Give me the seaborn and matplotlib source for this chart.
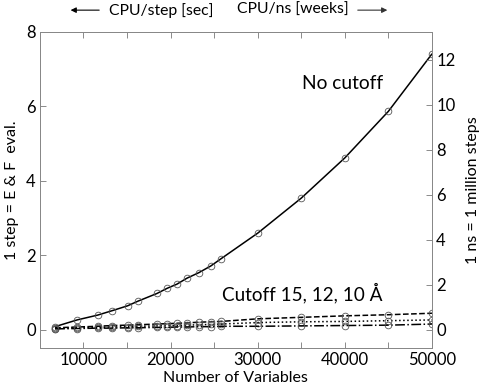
import matplotlib
matplotlib.use("Agg")
import matplotlib.pyplot as plt
import seaborn as sns
import pandas as pd

# Number of variables (x positions of the measured systems)
n_vars = [6740, 9260, 11630, 13310, 15070, 16210, 18430, 19610, 20720,
          21870, 23250, 24620, 25770, 30000, 35000, 40000, 45000, 50000]

# CPU time per step [sec]
no_cutoff = [0.09, 0.27, 0.40, 0.52, 0.65, 0.77, 0.98, 1.12, 1.23,
             1.39, 1.54, 1.72, 1.91, 2.60, 3.54, 4.62, 5.87, 7.41]
cutoff_15 = [0.06, 0.08, 0.10, 0.12, 0.13, 0.14, 0.16, 0.17, 0.18,
             0.19, 0.21, 0.22, 0.23, 0.30, 0.34, 0.38, 0.41, 0.45]
cutoff_12 = [0.04, 0.06, 0.07, 0.08, 0.09, 0.10, 0.11, 0.12, 0.12,
             0.13, 0.14, 0.15, 0.16, 0.20, 0.22, 0.23, 0.25, 0.27]
cutoff_10 = [0.03, 0.04, 0.05, 0.05, 0.06, 0.06, 0.07, 0.07, 0.08,
             0.08, 0.09, 0.09, 0.10, 0.10, 0.11, 0.12, 0.13, 0.16]

x_ticks = [10000, 20000, 30000, 40000, 50000]
left_ticks = [0, 2, 4, 6, 8]
right_ticks = [0, 2, 4, 6, 8, 10, 12]

# 1 ns = 1 million steps, seconds -> weeks
sec_to_weeks = 1e6 / 604800.0

sns.set_theme(style="ticks")
plt.rcParams['font.family'] = ['Lato', 'DejaVu Sans']
plt.rcParams['text.color'] = 'black'
plt.rcParams['axes.labelcolor'] = 'black'
plt.rcParams['xtick.labelcolor'] = 'black'
plt.rcParams['ytick.labelcolor'] = 'black'

series = [
    ("No cutoff", no_cutoff, "-"),
    ("15", cutoff_15, "--"),
    ("12", cutoff_12, ":"),
    ("10", cutoff_10, "-."),
]
df = pd.concat([pd.DataFrame({"n": n_vars, "t": vals, "s": name})
                for name, vals, _ in series], ignore_index=True)

fig = plt.figure(figsize=(4.81, 3.90), dpi=100)
ax = fig.add_axes([0.083, 0.108, 0.815, 0.810])

for name, vals, ls in series:
    sub = df[df["s"] == name]
    sns.lineplot(data=sub, x="n", y="t", ax=ax, color="black", linestyle=ls,
                 linewidth=1.1, marker="o", markersize=4.8,
                 markerfacecolor="none", markeredgecolor="#555555",
                 markeredgewidth=0.6, legend=False)

ax.set_xlim(5000, 50000)
ax.set_ylim(-0.48, 8)
ax.set_xticks(range(5000, 50001, 5000))
ax.set_xticklabels([str(v) if v in x_ticks else "" for v in range(5000, 50001, 5000)])
ax.set_yticks(left_ticks)
ax.set_yticklabels([str(v) for v in left_ticks])
ax.tick_params(direction="in", length=4, width=0.6, color="#777777",
               labelsize=12, top=True, pad=3)
ax.set_xlabel("Number of Variables", fontsize=11.5, labelpad=2)
ax.set_ylabel("1 step = E & F  eval.", fontsize=11.5, labelpad=5)

ax2 = ax.twinx()
lo, hi = ax.get_ylim()
ax2.set_ylim(lo * sec_to_weeks, hi * sec_to_weeks)
ax2.set_yticks(right_ticks)
ax2.set_yticklabels([str(v) for v in right_ticks])
ax2.tick_params(direction="in", length=4, width=0.6, color="#777777",
                labelsize=12, pad=3)
ax2.set_ylabel("1 ns = 1 million steps", fontsize=11.5, labelpad=8)

for a in (ax, ax2):
    for sp in a.spines.values():
        sp.set_color("#888888")
        sp.set_linewidth(0.7)

ax.text(39700, 6.63, "No cutoff", fontsize=13.8, ha="center", va="center")
ax.text(35100, 0.99, "Cutoff 15, 12, 10 Å", fontsize=13.6, ha="center", va="center")

# header with arrows
fig.text(0.443, 0.974, "CPU/step [sec]", fontsize=11.3, ha="right", va="center")
fig.text(0.493, 0.974, "CPU/ns [weeks]", fontsize=11.3, ha="left", va="center")
fig.patches.append(matplotlib.patches.FancyArrowPatch(
    (0.212, 0.974), (0.141, 0.974), transform=fig.transFigure,
    arrowstyle="-|>", mutation_scale=8, color="black", linewidth=0.8))
fig.patches.append(matplotlib.patches.FancyArrowPatch(
    (0.738, 0.974), (0.811, 0.974), transform=fig.transFigure,
    arrowstyle="-|>", mutation_scale=8, color="#333333", linewidth=0.8))

fig.savefig("out.png", dpi=100)
